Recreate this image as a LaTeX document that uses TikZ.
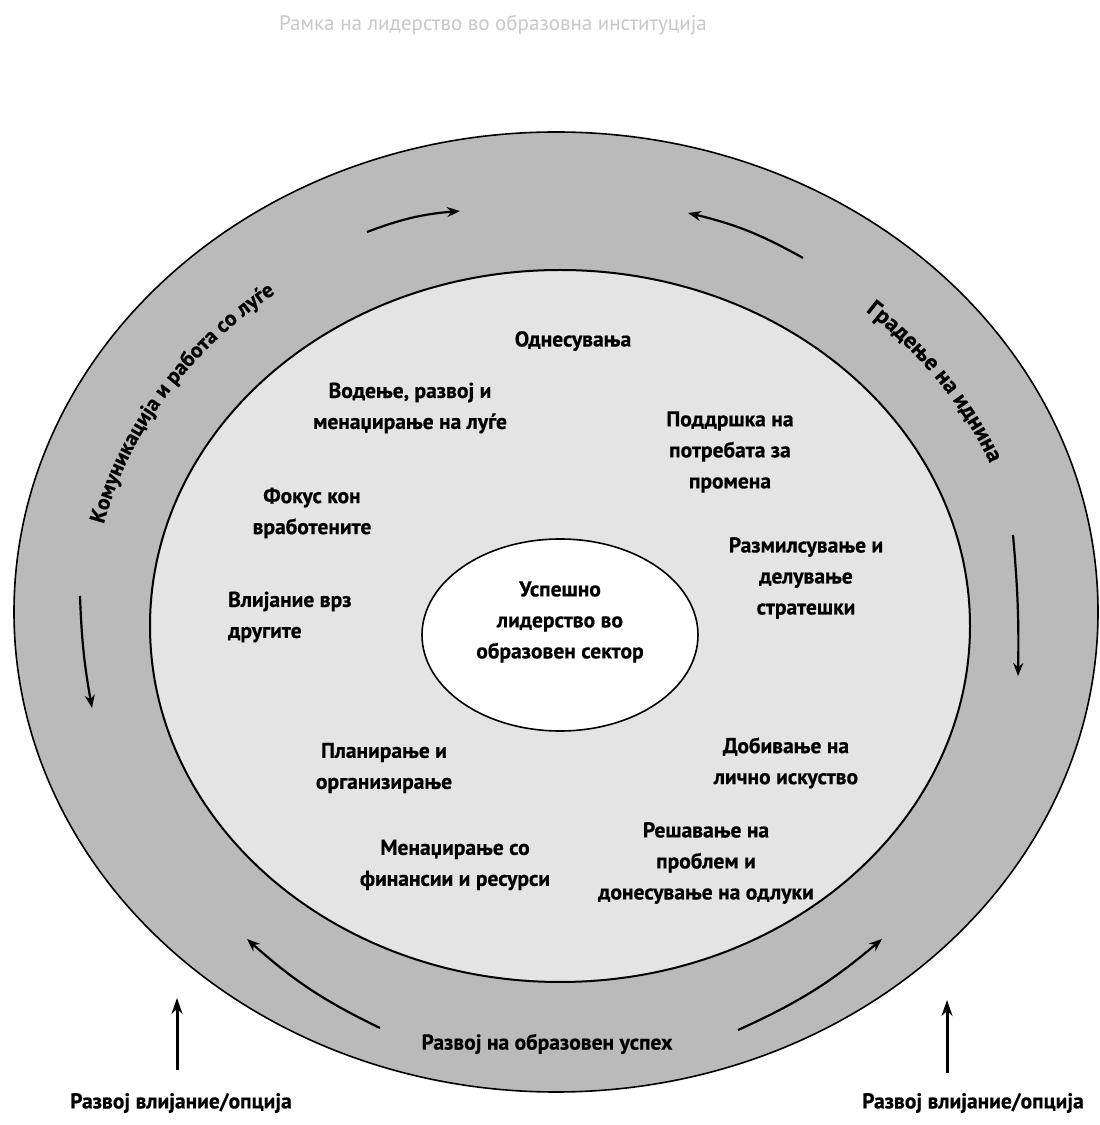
\documentclass[tikz,border=0pt]{standalone}
\usepackage{fontspec}
\setmainfont[BoldFeatures={FakeBold=0.6}]{PT Sans}
\usetikzlibrary{shapes.geometric,arrows.meta,decorations.text}
\definecolor{bandgray}{RGB}{186,186,186}
\definecolor{fieldgray}{RGB}{228,228,228}
\definecolor{titlegray}{RGB}{200,200,200}

\begin{document}
\begin{tikzpicture}[x=1pt,y=1pt,
  ring/.style={ellipse, draw=black, inner sep=0pt},
  lbl/.style={font=\bfseries\fontsize{21.5}{31}\selectfont, align=center, inner sep=0pt},
  flow/.style={line width=2.2pt, -{Stealth[length=13pt,width=10pt]}},
  push/.style={line width=3pt, -{Stealth[length=16pt,width=11pt]}}]
\fill[white] (0,0) rectangle (1100,1125);
\useasboundingbox (0,0) rectangle (1100,1125);

% title
\node[font=\fontsize{21}{24}\selectfont, text=titlegray] (title) at (493,1100) {Рамка на лидерство во образовна институција};

% rings
\node[ring, fill=bandgray, line width=1.6pt, minimum width=1084pt, minimum height=960pt] (outer) at (556,513) {};
\node[ring, fill=fieldgray, line width=2pt, minimum width=820pt, minimum height=712pt] (inner) at (560,499) {};
\node[ring, fill=white, line width=1.6pt, minimum width=276pt, minimum height=192pt] (core) at (560,490) {};
\node[lbl] (coretext) at (560,503) {Успешно\\лидерство во\\образовен сектор};

% curved band titles
\path[decorate, decoration={text along path, text align=center,
  text={|\bfseries\fontsize{21.5}{24}\selectfont|Комуникација и работа со луѓе}}]
  (558,506) ++(179:467pt and 409pt) arc[start angle=179, end angle=116, x radius=467pt, y radius=409pt];
\path[decorate, decoration={text along path, text align=center,
  text={|\bfseries\fontsize{23}{26}\selectfont|Градење на иднина}}]
  (558,506) ++(62:467pt and 409pt) arc[start angle=62, end angle=8, x radius=467pt, y radius=409pt];
\node[lbl] (growth) at (547,81) {Развој на образовен успех};

% field labels
\node[lbl] (l1) at (573,784) {Однесувања};
\node[lbl] (l2) at (410,717) {Водење, развој и\\менаџирање на луѓе};
\node[lbl] (l3) at (730,673) {Поддршка на\\потребата за\\промена};
\node[lbl] (l4) at (312,612) {Фокус кон\\вработените};
\node[lbl] (l5) at (806,547) {Размилсување и\\делување\\стратешки};
\node[lbl, align=left, anchor=west] (l6) at (228,508) {Влијание врз\\другите};
\node[lbl] (l7) at (384,357) {Планирање и\\организирање};
\node[lbl] (l8) at (786,362) {Добивање на\\лично искуство};
\node[lbl] (l9) at (455,260) {Менаџирање со\\финансии и ресурси};
\node[lbl] (l10) at (706,262) {Решавање на\\проблем и\\донесување на одлуки};

% circulation arrows in the band
\draw[flow] (367,893) to[bend left=8] (460,914);
\draw[flow] (803,867) to[bend right=8] (688,912);
\draw[flow] (80,529) to[bend right=4] (92,417);
\draw[flow] (1013,590) to[bend left=3] (1018,449);
\draw[flow] (380,97) to[bend left=8] (247,186);
\draw[flow] (738,95) to[bend right=8] (882,186);

% external inputs
\node[lbl] (inL) at (181,22) {Развој влијание/опција};
\node[lbl] (inR) at (973,22) {Развој влијание/опција};
\coordinate (inLtail) at (177,55);
\coordinate (inLtip) at (177,127);
\coordinate (inRtail) at (947,52);
\coordinate (inRtip) at (947,125);
\draw[push] (inLtail) -- (inLtip);
\draw[push] (inRtail) -- (inRtip);
\end{tikzpicture}
\end{document}
